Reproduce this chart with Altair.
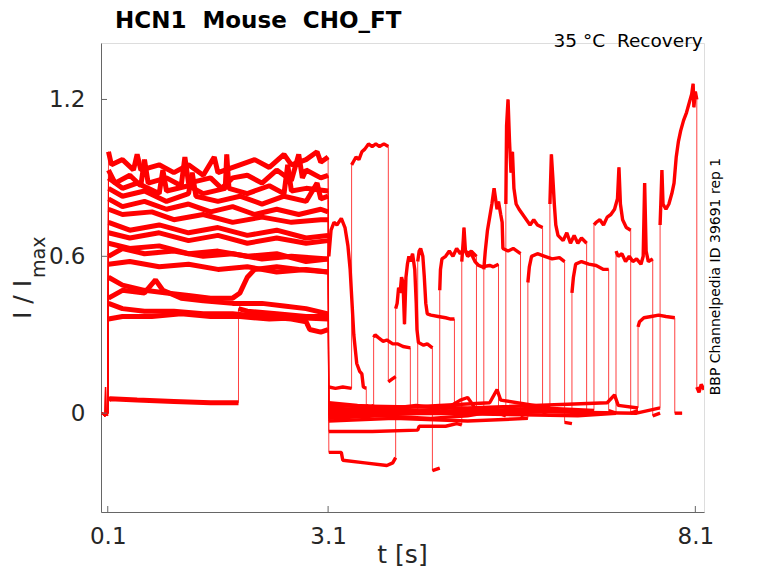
import altair as alt
import pandas as pd

# ---------------- data ----------------
x_ticks = [0.1, 3.1, 8.1]
y_ticks = [0, 0.6, 1.2]

pre_flat = [[0.02, 0.0], [0.06, -0.01], [0.1, 0.0]]
pre_spike = [[0.02, 0.0], [0.06, 0.0], [0.07, 0.10], [0.08, 0.0], [0.1, -0.01]]

# each sweep: list of segments, each segment list of [t (s), I/Imax]
sweep_00 = [
    pre_flat,
    [[0.11, 0.93], [0.2, 0.88], [0.4, 0.91], [0.55, 0.87], [0.6, 0.97], [0.65, 0.88], [0.9, 0.90], [1.1, 0.87],
     [1.15, 0.98], [1.2, 0.88], [1.5, 0.90], [1.65, 0.86], [1.8, 0.90], [2.0, 0.91], [2.2, 0.88], [2.4, 0.93],
     [2.6, 0.89], [2.7, 0.99], [2.75, 0.90], [2.8, 0.93], [3.0, 0.90], [3.1, 0.91]],
    [[3.11, 0.60], [3.14, 0.70], [3.18, 0.73], [3.22, 0.72], [3.28, 0.745], [3.33, 0.71], [3.37, 0.64], [3.4, 0.55],
     [3.43, 0.40], [3.45, 0.30], [3.49, 0.19], [3.53, 0.16], [3.56, 0.15], [3.58, 0.10], [3.62, 0.095]],
    [[3.62, 0.03], [3.66, 0.02], [3.72, 0.03]],
]
sweep_01 = [
    pre_flat,
    [[0.11, 1.0], [0.15, 0.95], [0.3, 0.97], [0.45, 0.93], [0.5, 0.99], [0.55, 0.93], [0.8, 0.95], [1.0, 0.92],
     [1.2, 0.95], [1.4, 0.91], [1.55, 0.98], [1.6, 0.92], [1.9, 0.95], [2.1, 0.97], [2.3, 0.94], [2.5, 0.99],
     [2.6, 0.95], [2.8, 0.97], [2.95, 1.0], [3.0, 0.96], [3.1, 0.98]],
    [[3.11, 0.10], [3.2, 0.095], [3.3, 0.10], [3.42, 0.095]],
    [[3.42, 0.95], [3.44, 0.96], [3.48, 0.98], [3.52, 0.97], [3.56, 1.0], [3.6, 1.01], [3.65, 1.03], [3.7, 1.02],
     [3.75, 1.03], [3.8, 1.02], [3.86, 1.03], [3.92, 1.02]],
    [[3.92, 0.12], [3.97, 0.13], [4.02, 0.14]],
]
sweep_02 = [
    pre_flat,
    [[0.11, 0.60], [0.3, 0.63], [0.6, 0.61], [1.0, 0.62], [1.4, 0.60], [1.8, 0.61], [2.2, 0.59], [2.6, 0.60],
     [3.1, 0.59]],
    [[3.11, 0.02], [3.4, 0.01], [3.72, 0.015]],
    [[3.72, 0.29], [3.74, 0.30], [3.78, 0.29], [3.85, 0.275], [3.9, 0.28], [3.98, 0.265], [4.05, 0.265],
     [4.12, 0.255], [4.22, 0.25]],
    [[4.22, 0.0], [4.32, 0.0]],
]
sweep_03 = [
    pre_flat,
    [[0.11, 0.86], [0.3, 0.83], [0.6, 0.85], [0.9, 0.81], [1.2, 0.84], [1.25, 0.92], [1.3, 0.83], [1.6, 0.81],
     [1.9, 0.83], [2.2, 0.80], [2.5, 0.83], [2.8, 0.81], [2.95, 0.88], [3.0, 0.82], [3.1, 0.83]],
    [[3.11, -0.15], [3.28, -0.15], [3.3, -0.18], [3.6, -0.19], [3.9, -0.20], [3.98, -0.19], [4.02, -0.17]],
    [[4.02, 0.40], [4.04, 0.42], [4.06, 0.48], [4.08, 0.46], [4.1, 0.52], [4.12, 0.50], [4.14, 0.34], [4.16, 0.52],
     [4.18, 0.57], [4.2, 0.60], [4.22, 0.58], [4.25, 0.61], [4.28, 0.55], [4.3, 0.42], [4.31, 0.32], [4.33, 0.27],
     [4.4, 0.26], [4.45, 0.265], [4.52, 0.25]],
    [[4.52, -0.22], [4.57, -0.215], [4.62, -0.21]],
]
sweep_04 = [
    pre_flat,
    [[0.11, 0.73], [0.4, 0.70], [0.8, 0.72], [1.2, 0.69], [1.6, 0.71], [2.0, 0.68], [2.4, 0.70], [2.8, 0.67],
     [3.1, 0.68]],
    [[3.11, 0.0], [3.6, 0.01], [4.0, 0.0], [4.32, 0.01]],
    [[4.32, 0.58], [4.34, 0.62], [4.36, 0.63], [4.39, 0.60], [4.41, 0.52], [4.43, 0.42], [4.45, 0.38],
     [4.5, 0.375], [4.6, 0.37], [4.7, 0.365], [4.77, 0.36], [4.82, 0.36]],
    [[4.82, 0.0], [4.92, 0.01]],
]
sweep_05 = [
    pre_flat,
    [[0.11, 0.82], [0.3, 0.79], [0.6, 0.81], [0.9, 0.78], [1.2, 0.80], [1.5, 0.77], [1.8, 0.79], [2.1, 0.76],
     [2.4, 0.78], [2.7, 0.76], [3.0, 0.78], [3.1, 0.77]],
    [[3.11, 0.04], [3.5, 0.03], [4.0, 0.02], [4.3, 0.03], [4.62, 0.02]],
    [[4.62, 0.47], [4.63, 0.55], [4.65, 0.59], [4.7, 0.60], [4.75, 0.62], [4.8, 0.60], [4.85, 0.63], [4.9, 0.61],
     [4.95, 0.63], [5.0, 0.61], [5.05, 0.62], [5.12, 0.60]],
    [[5.12, 0.01], [5.22, 0.0]],
]
sweep_06 = [
    pre_flat,
    [[0.11, 0.57], [0.4, 0.58], [0.8, 0.56], [1.2, 0.57], [1.6, 0.55], [2.0, 0.56], [2.4, 0.54], [2.8, 0.55],
     [3.1, 0.54]],
    [[3.11, -0.07], [3.7, -0.07], [4.32, -0.065], [4.34, -0.05], [4.7, -0.05], [4.85, -0.04], [4.92, -0.045]],
    [[4.92, 0.58], [4.94, 0.66], [4.95, 0.71], [4.97, 0.62], [5.0, 0.60], [5.05, 0.61], [5.1, 0.58],
     [5.15, 0.565], [5.2, 0.56], [5.3, 0.565], [5.35, 0.56], [5.42, 0.57]],
    [[5.42, 0.0], [5.52, -0.01]],
]
sweep_07 = [
    pre_flat,
    [[0.11, 0.78], [0.3, 0.76], [0.7, 0.77], [1.0, 0.74], [1.4, 0.76], [1.8, 0.73], [2.2, 0.75], [2.6, 0.73],
     [3.0, 0.74], [3.1, 0.74]],
    [[3.11, -0.02], [3.8, -0.01], [4.5, -0.02], [5.0, -0.01], [5.22, 0.0]],
    [[5.22, 0.55], [5.24, 0.62], [5.27, 0.70], [5.3, 0.75], [5.33, 0.80], [5.36, 0.86], [5.38, 0.82], [5.4, 0.78],
     [5.42, 0.81], [5.45, 0.76], [5.47, 0.73], [5.48, 0.63], [5.55, 0.62], [5.62, 0.63], [5.72, 0.61]],
    [[5.72, -0.01], [5.82, 0.0]],
]
sweep_08 = [
    pre_flat,
    [[0.11, 0.90], [0.3, 0.86], [0.5, 0.88], [0.8, 0.84], [0.85, 0.93], [0.9, 0.85], [1.2, 0.87], [1.4, 0.84],
     [1.7, 0.86], [1.72, 0.99], [1.75, 0.86], [2.0, 0.84], [2.3, 0.87], [2.5, 0.84], [2.55, 0.95], [2.6, 0.85],
     [2.8, 0.86], [3.1, 0.85]],
    [[3.11, 0.01], [3.9, 0.02], [4.6, 0.0], [4.9, 0.05], [5.0, 0.06], [5.1, 0.02], [5.52, 0.01]],
    [[5.52, 0.80], [5.53, 1.10], [5.55, 1.20], [5.57, 1.04], [5.59, 0.92], [5.61, 1.00], [5.63, 0.86],
     [5.66, 0.80], [5.7, 0.78], [5.75, 0.76], [5.8, 0.74], [5.85, 0.72], [5.9, 0.74], [5.95, 0.72], [6.02, 0.71]],
    [[6.02, 0.0], [6.12, 0.01]],
]
sweep_09 = [
    pre_spike,
    [[0.11, 0.05], [0.13, 0.055], [0.5, 0.05], [1.0, 0.045], [1.5, 0.04], [1.88, 0.04]],
    [[1.88, 0.40], [2.0, 0.39], [2.4, 0.38], [2.8, 0.37], [3.1, 0.37]],
    [[3.11, -0.03], [4.0, -0.02], [5.0, -0.03], [5.82, -0.02]],
    [[5.82, 0.50], [5.84, 0.56], [5.87, 0.60], [5.95, 0.61], [6.05, 0.60], [6.15, 0.59], [6.25, 0.595],
     [6.32, 0.58]],
    [[6.32, -0.035], [6.42, -0.04]],
]
sweep_10 = [
    pre_flat,
    [[0.11, 0.69], [0.4, 0.67], [0.8, 0.69], [1.2, 0.66], [1.6, 0.68], [2.0, 0.65], [2.4, 0.67], [2.8, 0.65],
     [3.1, 0.66]],
    [[3.11, 0.03], [4.0, 0.02], [5.3, 0.04], [5.4, 0.09], [5.45, 0.05], [6.12, 0.02]],
    [[6.12, 0.80], [6.14, 0.99], [6.16, 0.90], [6.18, 0.80], [6.2, 0.72], [6.23, 0.68], [6.3, 0.66], [6.35, 0.69],
     [6.4, 0.65], [6.45, 0.68], [6.5, 0.65], [6.55, 0.67], [6.62, 0.65]],
    [[6.62, 0.0], [6.72, 0.0]],
]
sweep_11 = [
    pre_flat,
    [[0.11, 0.52], [0.3, 0.49], [0.6, 0.47], [0.9, 0.46], [1.2, 0.45], [1.5, 0.44], [1.8, 0.44], [1.9, 0.46],
     [2.0, 0.52], [2.1, 0.55], [2.4, 0.56], [2.7, 0.55], [3.1, 0.54]],
    [[3.11, 0.0], [4.5, 0.01], [5.5, 0.0], [6.42, 0.01]],
    [[6.42, 0.46], [6.44, 0.52], [6.47, 0.57], [6.55, 0.58], [6.65, 0.57], [6.75, 0.565], [6.85, 0.55],
     [6.92, 0.55]],
    [[6.92, 0.01], [7.02, 0.0]],
]
sweep_12 = [
    pre_flat,
    [[0.11, 0.44], [0.3, 0.47], [0.6, 0.46], [0.75, 0.51], [0.85, 0.47], [1.1, 0.44], [1.4, 0.43], [1.8, 0.42],
     [2.2, 0.42], [2.5, 0.41], [2.8, 0.40], [3.1, 0.38]],
    [[3.11, 0.02], [4.5, 0.0], [6.0, 0.02], [6.72, 0.01]],
    [[6.72, 0.72], [6.75, 0.73], [6.8, 0.74], [6.85, 0.72], [6.9, 0.75], [6.95, 0.76], [7.0, 0.78], [7.04, 0.82],
     [7.06, 0.94], [7.08, 0.80], [7.11, 0.74], [7.16, 0.71], [7.22, 0.70]],
    [[7.22, 0.0], [7.32, 0.01]],
]
sweep_13 = [
    pre_flat,
    [[0.11, 0.65], [0.4, 0.63], [0.8, 0.64], [1.2, 0.61], [1.6, 0.62], [2.0, 0.60], [2.4, 0.61], [2.8, 0.58],
     [3.1, 0.59]],
    [[3.11, -0.01], [4.5, 0.0], [6.5, -0.01], [7.02, 0.0]],
    [[7.02, 0.62], [7.05, 0.60], [7.1, 0.61], [7.15, 0.58], [7.2, 0.60], [7.25, 0.58], [7.3, 0.59], [7.36, 0.57],
     [7.39, 0.60], [7.41, 0.88], [7.43, 0.62], [7.46, 0.58], [7.52, 0.59]],
    [[7.52, -0.01], [7.62, 0.0]],
]
sweep_14 = [
    pre_flat,
    [[0.11, 0.36], [0.3, 0.37], [0.7, 0.37], [1.1, 0.38], [1.5, 0.37], [1.9, 0.37], [2.3, 0.36], [2.7, 0.365],
     [3.1, 0.36]],
    [[3.11, 0.03], [5.0, 0.02], [6.9, 0.04], [7.0, 0.07], [7.05, 0.03], [7.32, 0.02]],
    [[7.32, 0.33], [7.34, 0.35], [7.4, 0.365], [7.5, 0.37], [7.6, 0.375], [7.7, 0.37], [7.82, 0.365]],
    [[7.82, 0.0], [7.92, 0.0]],
]
sweep_15 = [
    pre_flat,
    [[0.11, 0.42], [0.3, 0.40], [0.6, 0.39], [1.0, 0.39], [1.4, 0.38], [1.8, 0.38], [2.2, 0.37], [2.6, 0.36],
     [2.8, 0.35], [2.85, 0.32], [3.0, 0.31], [3.1, 0.32]],
    [[3.11, 0.0], [5.0, 0.01], [7.3, 0.0], [7.62, 0.02]],
    [[7.62, 0.72], [7.63, 0.80], [7.645, 0.93], [7.66, 0.80], [7.7, 0.78], [7.74, 0.80], [7.78, 0.84],
     [7.81, 0.88], [7.84, 0.98], [7.87, 1.04], [7.9, 1.08], [7.94, 1.12], [7.98, 1.15], [8.02, 1.19],
     [8.05, 1.22], [8.07, 1.26], [8.08, 1.17], [8.1, 1.23], [8.12, 1.20]],
    [[8.12, 0.10], [8.15, 0.08], [8.18, 0.11], [8.22, 0.09]],
]

sweeps = [sweep_00, sweep_01, sweep_02, sweep_03, sweep_04, sweep_05, sweep_06, sweep_07,
          sweep_08, sweep_09, sweep_10, sweep_11, sweep_12, sweep_13, sweep_14, sweep_15]

# ---------------- table ----------------
rows = []
for k, sw in enumerate(sweeps):
    n = 0
    for s, seg in enumerate(sw):
        t0 = seg[0][0]
        # stroke width stands in for the recording noise band of each phase
        w = 1.5 if t0 < 0.105 else (5.0 if t0 < 3.105 else 3.4)
        for t, y in seg:
            rows.append({"sweep": k, "seg": f"{k}-{s}", "i": n, "t": t, "y": y, "w": w})
            n += 1
df = pd.DataFrame(rows)

W, H = 603, 469
XDOM = [0.008, 8.218]
YDOM = [-0.378, 1.416]
RED = "#ff0000"
FONT = "DejaVu Sans"

xenc = alt.X("t:Q", scale=alt.Scale(domain=XDOM, nice=False, zero=False),
             axis=alt.Axis(values=x_ticks, format=".1f", title=None, grid=False, ticks=False,
                           labelFontSize=23, labelColor="#262626", labelPadding=31,
                           labelBaseline="alphabetic", domainColor="#666666", labelFont=FONT))
yenc = alt.Y("y:Q", scale=alt.Scale(domain=YDOM, nice=False, zero=False),
             axis=alt.Axis(values=y_ticks, format=".1~f", title=None, grid=False, ticks=False,
                           labelFontSize=23, labelColor="#262626", labelPadding=16,
                           domainColor="#666666", labelFont=FONT))

base = alt.Chart(df)
thin = base.mark_line(color=RED, strokeWidth=1, opacity=0.75, clip=True).encode(
    x=xenc, y=yenc, detail="sweep:N", order=alt.Order("i:Q"))
thick = base.mark_line(color=RED, clip=True, strokeJoin="bevel").encode(
    x="t:Q", y="y:Q", detail="seg:N", order=alt.Order("i:Q"),
    strokeWidth=alt.StrokeWidth("w:Q", scale=None))

xt = alt.Chart(pd.DataFrame({"v": x_ticks})).mark_rule(color="#666666", strokeWidth=1).encode(
    x="v:Q", y=alt.value(H), y2=alt.value(H - 6))
yt = alt.Chart(pd.DataFrame({"v": y_ticks})).mark_rule(color="#666666", strokeWidth=1).encode(
    y="v:Q", x=alt.value(0), x2=alt.value(6))

def label(text, x, y, size, **kw):
    return alt.Chart(pd.DataFrame({"a": [0]})).mark_text(
        text=text, fontSize=size, font=FONT, **kw).encode(x=alt.value(x), y=alt.value(y))

title = label("HCN1\u00a0\u00a0Mouse\u00a0\u00a0CHO_FT", 14, -15, 23, fontWeight="bold",
              align="left", baseline="alphabetic", color="#000000")
sub = label("35 °C\u00a0\u00a0Recovery", 601.7, 3.5, 18.5, align="right", baseline="alphabetic",
            color="#000000")
side = label("BBP Channelpedia ID 39691 rep 1", 619, 233.5, 14, align="center",
             baseline="alphabetic", angle=270, color="#000000")
xtitle = label("t [s]", W / 2, 520, 25, align="center", baseline="alphabetic", color="#262626")
ytitle1 = label("I / I", -70, 237, 25, align="right", baseline="alphabetic", angle=270, color="#262626")
ytitle2 = label("max", -56, 235, 19, align="left", baseline="alphabetic", angle=270, color="#262626")

chart = alt.layer(thin, thick, xt, yt, title, sub, side, xtitle, ytitle1, ytitle2).properties(
    width=W, height=H,
    autosize=alt.AutoSizeParams(type="none"),
    padding={"left": 93, "top": 35, "right": 55, "bottom": 60},
).configure_view(strokeWidth=0).configure(font=FONT)

chart.save("out.html", embed_options={"renderer": "svg", "actions": False})
